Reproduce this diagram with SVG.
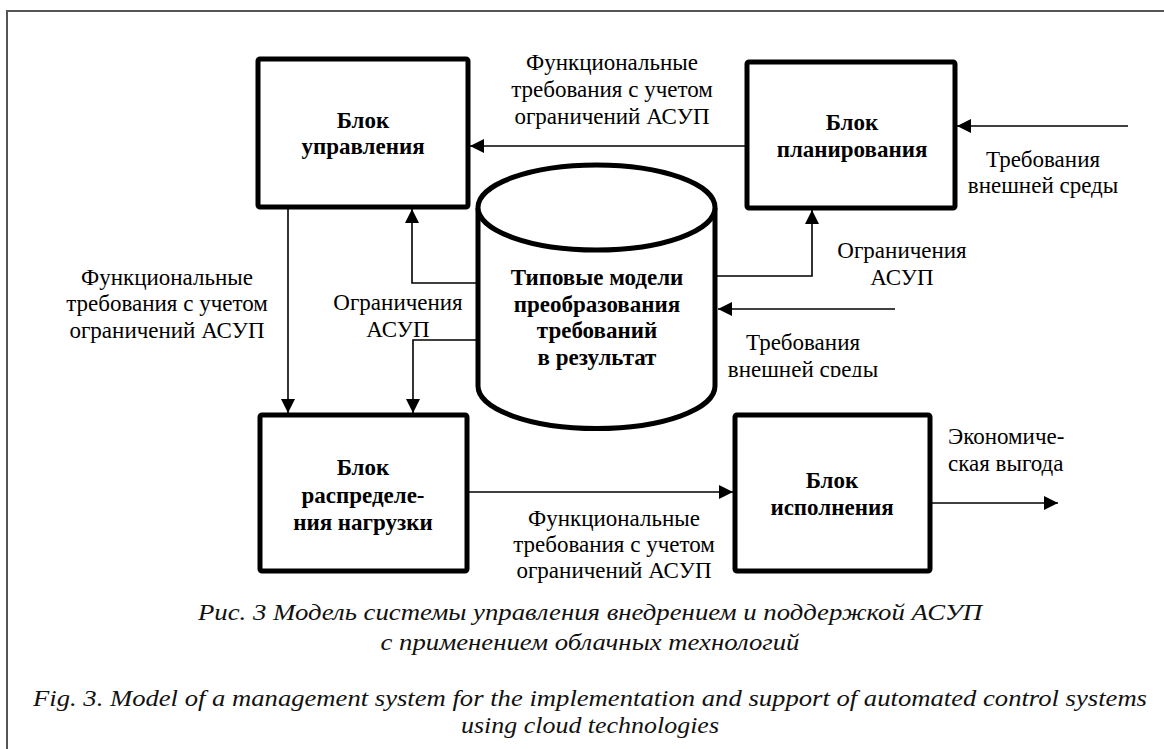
<svg xmlns="http://www.w3.org/2000/svg" width="1164" height="749" viewBox="0 0 1164 749" font-family="'Liberation Serif', 'Times New Roman', Times, serif">
<style>
text{font-family:'Liberation Serif','Times New Roman',Times,serif;}
.box{fill:#fff;stroke:#000;stroke-width:5;}
.t{font-size:23px;fill:#000;text-anchor:middle;}
.s{text-anchor:start;}
.b{font-weight:bold;}
.cap{font-size:24px;font-style:italic;fill:#111;text-anchor:middle;}
.ln{fill:none;stroke:#000;stroke-width:1.6;}
.frame{fill:none;stroke:#555;stroke-width:2;}
</style>
<defs>
<marker id="ah" markerUnits="userSpaceOnUse" markerWidth="15" markerHeight="15" refX="14" refY="7" orient="auto">
<path d="M0,0 L14,7 L0,14 z" fill="#000"/>
</marker>
<clipPath id="clipLow"><rect x="700" y="320" width="220" height="57"/></clipPath>
</defs>
<rect width="1164" height="749" fill="#fff"/>
<path class="frame" d="M7,749 L7,11 L1164,11"/>

<g id="control">
<rect class="box" x="258" y="59" width="210" height="148" rx="2"/>
<text class="t b" x="363" y="128">Блок</text>
<text class="t b" x="363" y="154">управления</text>
</g>
<g id="planning">
<rect class="box" x="747" y="62" width="208" height="146" rx="2"/>
<text class="t b" x="852" y="130">Блок</text>
<text class="t b" x="852" y="157">планирования</text>
</g>
<g id="models">
<path class="box" d="M478,208 L478,386 A118.5,42.5 0 0 0 715,386 L715,208"/>
<ellipse class="box" cx="596.5" cy="207.5" rx="118.5" ry="42.5"/>
<text class="t b" x="597" y="285">Типовые модели</text>
<text class="t b" x="597" y="312">преобразования</text>
<text class="t b" x="597" y="338">требований</text>
<text class="t b" x="597" y="365">в результат</text>
</g>
<g id="distribution">
<rect class="box" x="260" y="415" width="207" height="156" rx="2"/>
<text class="t b" x="363" y="475">Блок</text>
<text class="t b" x="363" y="503">распределе-</text>
<text class="t b" x="363" y="530">ния нагрузки</text>
</g>
<g id="execution">
<rect class="box" x="735" y="415" width="195" height="156" rx="2"/>
<text class="t b" x="832" y="488">Блок</text>
<text class="t b" x="832" y="515">исполнения</text>
</g>

<g id="connectors">
<line class="ln" x1="747" y1="146" x2="470" y2="146" marker-end="url(#ah)"/>
<line class="ln" x1="1128" y1="126" x2="957" y2="126" marker-end="url(#ah)"/>
<polyline class="ln" points="478,283 412,283 412,209" marker-end="url(#ah)"/>
<polyline class="ln" points="478,340 413,340 413,413" marker-end="url(#ah)"/>
<line class="ln" x1="288" y1="207" x2="288" y2="413" marker-end="url(#ah)"/>
<polyline class="ln" points="715,276 812,276 812,210" marker-end="url(#ah)"/>
<line class="ln" x1="895" y1="309" x2="718" y2="309" marker-end="url(#ah)"/>
<line class="ln" x1="467" y1="492" x2="733" y2="492" marker-end="url(#ah)"/>
<line class="ln" x1="930" y1="503" x2="1058" y2="503" marker-end="url(#ah)"/>
</g>

<g id="labels">
<text class="t" x="612" y="70">Функциональные</text>
<text class="t" x="612" y="97">требования с учетом</text>
<text class="t" x="612" y="124">ограничений АСУП</text>
<text class="t" x="1043" y="167">Требования</text>
<text class="t" x="1043" y="193">внешней среды</text>
<text class="t" x="167" y="285">Функциональные</text>
<text class="t" x="167" y="311">требования с учетом</text>
<text class="t" x="167" y="338">ограничений АСУП</text>
<text class="t" x="398" y="310">Ограничения</text>
<text class="t" x="398" y="337">АСУП</text>
<text class="t" x="902" y="258">Ограничения</text>
<text class="t" x="902" y="285">АСУП</text>
<g clip-path="url(#clipLow)">
<text class="t" x="803" y="350">Требования</text>
<text class="t" x="803" y="377">внешней среды</text>
</g>
<text class="t s" x="948" y="444">Экономиче-</text>
<text class="t s" x="948" y="471">ская выгода</text>
<text class="t" x="614" y="526">Функциональные</text>
<text class="t" x="614" y="552">требования с учетом</text>
<text class="t" x="614" y="578">ограничений АСУП</text>
</g>

<g id="caption">
<text class="cap" x="590" y="620" textLength="784" lengthAdjust="spacingAndGlyphs">Рис. 3 Модель системы управления внедрением и поддержкой АСУП</text>
<text class="cap" x="590" y="650" textLength="419" lengthAdjust="spacingAndGlyphs">с применением облачных технологий</text>
<text class="cap" x="590" y="706" textLength="1114" lengthAdjust="spacingAndGlyphs">Fig. 3. Model of a management system for the implementation and support of automated control systems</text>
<text class="cap" x="590" y="733" textLength="258" lengthAdjust="spacingAndGlyphs">using cloud technologies</text>
</g>
</svg>
